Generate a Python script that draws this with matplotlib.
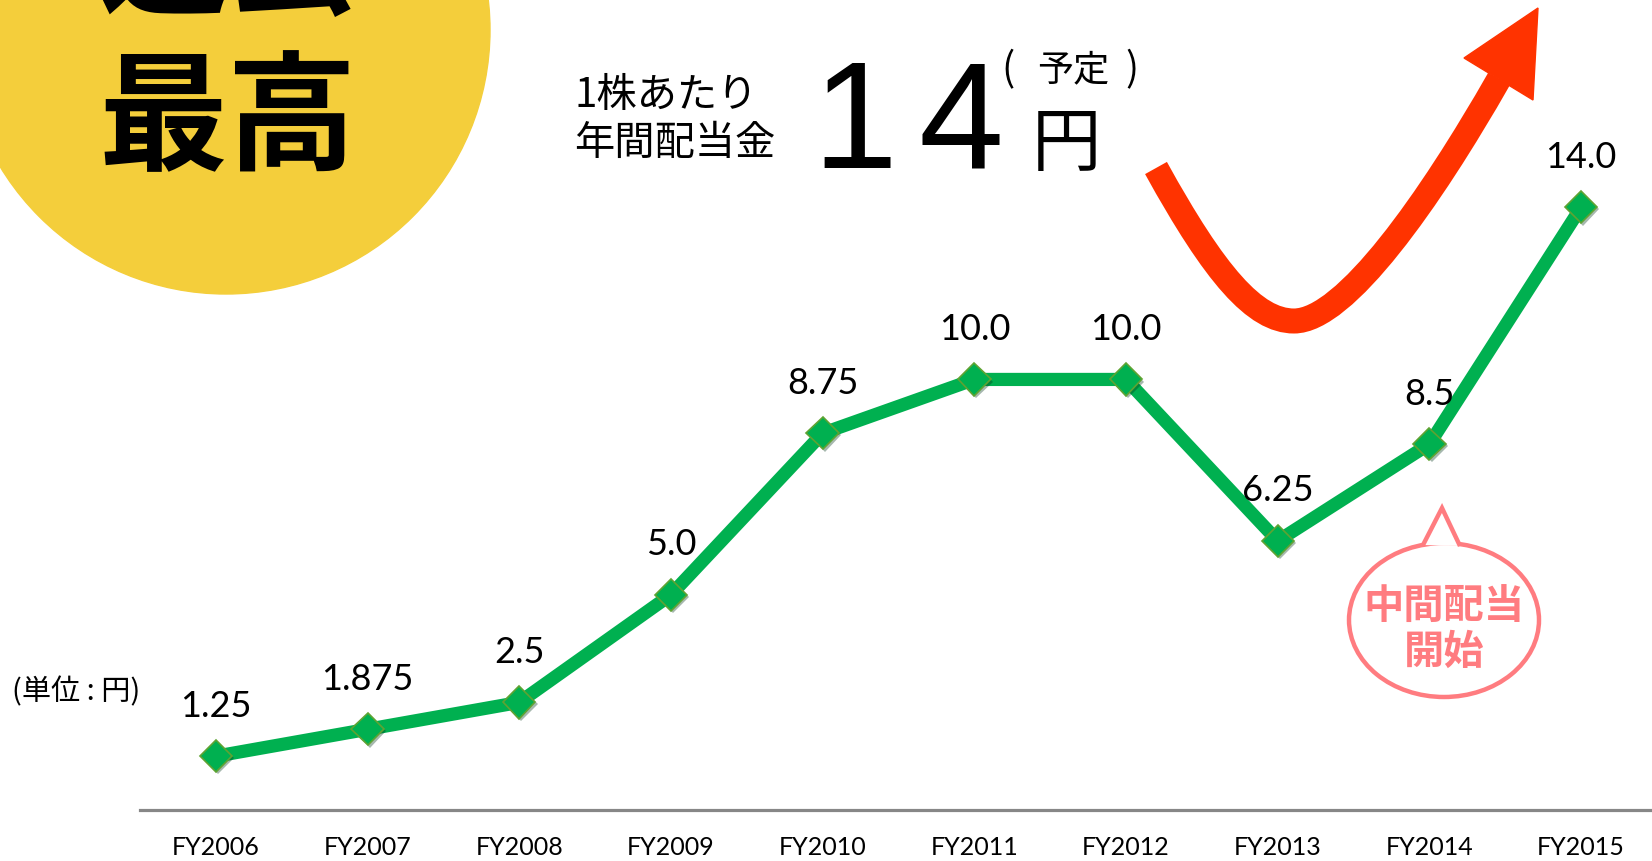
import numpy as np
import matplotlib.pyplot as plt
import matplotlib.patheffects as pe
from matplotlib.patches import Circle, Ellipse, Polygon, PathPatch
from matplotlib.path import Path

W, H = 1652, 861

# data
years = ['FY2006', 'FY2007', 'FY2008', 'FY2009', 'FY2010',
         'FY2011', 'FY2012', 'FY2013', 'FY2014', 'FY2015']
dividend = [1.25, 1.875, 2.5, 5.0, 8.75, 10.0, 10.0, 6.25, 8.5, 14.0]
value_labels = ['1.25', '1.875', '2.5', '5.0', '8.75',
                '10.0', '10.0', '6.25', '8.5', '14.0']

JP = ['Noto Sans CJK JP', 'DejaVu Sans']
NUM = ['Lato', 'DejaVu Sans']

green = '#00B050'
yellow = '#F4CE3B'
red = '#FF3300'
pink = '#FF7C80'

fig = plt.figure(figsize=(W / 100, H / 100), dpi=100)

# decoration layer in pixel coords (y down)
deco = fig.add_axes([0, 0, 1, 1], zorder=0)
deco.set_xlim(0, W)
deco.set_ylim(H, 0)
deco.axis('off')

deco.add_patch(Circle((226, 30), 264, color=yellow, zorder=1))
deco.text(228, -33, '過去', fontsize=93, fontweight='bold', family=JP,
          ha='center', va='center', zorder=2)
deco.text(228, 123, '最高', fontsize=93, fontweight='bold', family=JP,
          ha='center', va='center', zorder=2)

deco.text(574, 95, '1株あたり', fontsize=29, family=JP, ha='left', va='center')
deco.text(574, 143, '年間配当金', fontsize=29, family=JP, ha='left', va='center')
deco.text(855, 168, '1', fontsize=110, family=['Liberation Sans'],
          ha='center', va='baseline')
deco.text(961, 168, '4', fontsize=110, family=['Liberation Sans'],
          ha='center', va='baseline')
deco.text(1008, 70, '(', fontsize=28, family=JP, ha='center', va='center')
deco.text(1073, 70, '予定', fontsize=26, family=JP, ha='center', va='center')
deco.text(1132, 70, ')', fontsize=28, family=JP, ha='center', va='center')
deco.text(1066, 145, '円', fontsize=50, family=JP, ha='center', va='center')

deco.text(76, 692, '(単位 : 円)', fontsize=21, family=JP, ha='center', va='center')

# red curved arrow
verts = [(1156, 168), (1215, 275), (1255, 321), (1294, 321),
         (1345, 321), (1430, 200), (1499, 79)]
codes = [Path.MOVETO] + [Path.CURVE4] * 6
deco.add_patch(PathPatch(Path(verts, codes), fill=False, edgecolor=red,
                         linewidth=18, capstyle='butt', zorder=2))
deco.add_patch(Polygon([(1538, 8), (1464, 58), (1533, 100)], closed=True,
                       color=red, zorder=2))

# speech bubble
deco.add_patch(Ellipse((1444, 620), 190, 154, facecolor='white',
                       edgecolor=pink, linewidth=3.2, zorder=2))
deco.add_patch(Polygon([(1423, 545), (1442, 508), (1460, 546)], closed=False,
                       facecolor='white', edgecolor=pink, linewidth=3.2,
                       zorder=3, joinstyle='miter'))
deco.text(1444, 630, '中間配当\n開始', fontsize=29, fontweight='bold',
          family=JP, color=pink, ha='center', va='center',
          linespacing=1.1, zorder=4)

# chart
ax = fig.add_axes([140 / W, 1 - 810 / H, (W - 140) / W, 775 / H], zorder=1)
ax.set_facecolor('none')
x = np.arange(len(years))
ax.plot(x, dividend, color=green, linewidth=9.5, solid_joinstyle='round',
        zorder=2)
ax.plot(x, dividend, linestyle='none', marker='D', markersize=16.5,
        markerfacecolor=green, markeredgecolor='#5FA332', markeredgewidth=1.2,
        zorder=3,
        path_effects=[pe.SimplePatchShadow(offset=(1.5, -1.5), alpha=0.35),
                      pe.Normal()])

for xi, v, lbl in zip(x, dividend, value_labels):
    ax.annotate(lbl, (xi, v), xytext=(0, 50), textcoords='offset pixels',
                ha='center', va='center', fontsize=26, family=NUM)

ax.set_xlim(-0.5, 9.467)
ax.set_ylim(0, 18)
ax.set_xticks(x)
ax.set_xticklabels(years, fontsize=18, family=NUM)
ax.tick_params(axis='x', length=0, pad=18.5)
ax.set_yticks([])
for s in ['top', 'right', 'left']:
    ax.spines[s].set_visible(False)
ax.spines['bottom'].set_color('#878787')
ax.spines['bottom'].set_linewidth(2.3)

fig.savefig('out.png', dpi=100)
